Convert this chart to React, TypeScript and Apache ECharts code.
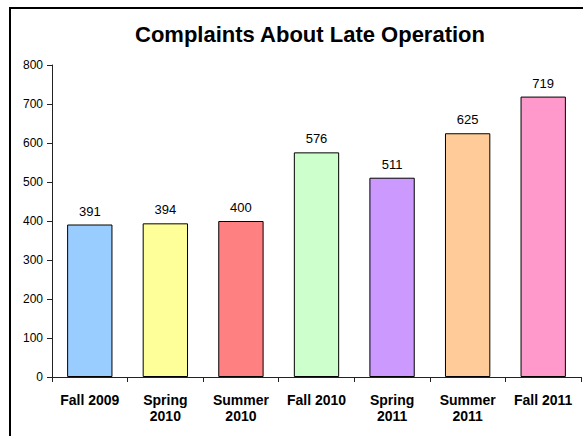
import React, { useEffect, useRef } from "react";
import * as echarts from "echarts";

const TITLE = "Complaints About Late Operation";
const categories = [
  "Fall 2009",
  "Spring\n2010",
  "Summer\n2010",
  "Fall 2010",
  "Spring\n2011",
  "Summer\n2011",
  "Fall 2011",
];
const complaints = [391, 394, 400, 576, 511, 625, 719];
const barColors = ["#99ccff", "#ffff99", "#ff8080", "#ccffcc", "#cc99ff", "#ffcc99", "#ff99cc"];
const yTicks = { min: 0, max: 800, interval: 100 };

const FONT = "'Liberation Sans', Arial, Helvetica, sans-serif";

export default function App() {
  const ref = useRef<HTMLDivElement>(null);
  useEffect(() => {
    if (!ref.current) return;
    const chart = echarts.init(ref.current, undefined, { renderer: "svg" });
    chart.setOption({
      animation: false,
      backgroundColor: "#ffffff",
      title: {
        text: TITLE,
        left: 294,
        top: 9,
        textAlign: "center",
        textStyle: { fontFamily: FONT, fontSize: 22, fontWeight: "bold", color: "#000" },
      },
      grid: { left: 41, right: 2, top: 56, bottom: 59, containLabel: false },
      xAxis: {
        type: "category",
        data: categories,
        axisLine: { lineStyle: { color: "#222", width: 1 } },
        axisTick: { show: true, length: 5, lineStyle: { color: "#222" } },
        axisLabel: {
          fontFamily: FONT,
          fontSize: 14,
          fontWeight: "bold",
          color: "#000",
          lineHeight: 16,
          margin: 15,
          interval: 0,
        },
      },
      yAxis: {
        type: "value",
        min: yTicks.min,
        max: yTicks.max,
        interval: yTicks.interval,
        axisLine: { show: true, lineStyle: { color: "#222", width: 1 } },
        axisTick: { show: true, length: 5, lineStyle: { color: "#222" } },
        splitLine: { show: false },
        axisLabel: { fontFamily: FONT, fontSize: 12, color: "#000", margin: 9 },
      },
      series: [
        {
          type: "bar",
          barWidth: "60%",
          data: complaints.map((v, i) => ({
            value: v,
            itemStyle: { color: barColors[i], borderColor: "#000", borderWidth: 1 },
          })),
          label: {
            show: true,
            position: "top",
            distance: 7,
            fontFamily: FONT,
            fontSize: 13,
            color: "#000",
          },
        },
      ],
    });
    return () => chart.dispose();
  }, []);
  return (
    <div
      style={{
        position: "absolute",
        left: 9,
        top: 7,
        borderLeft: "2px solid #000",
        borderTop: "2px solid #000",
        background: "#fff",
      }}
    >
      <div ref={ref} style={{ width: 572, height: 427 }} />
    </div>
  );
}
